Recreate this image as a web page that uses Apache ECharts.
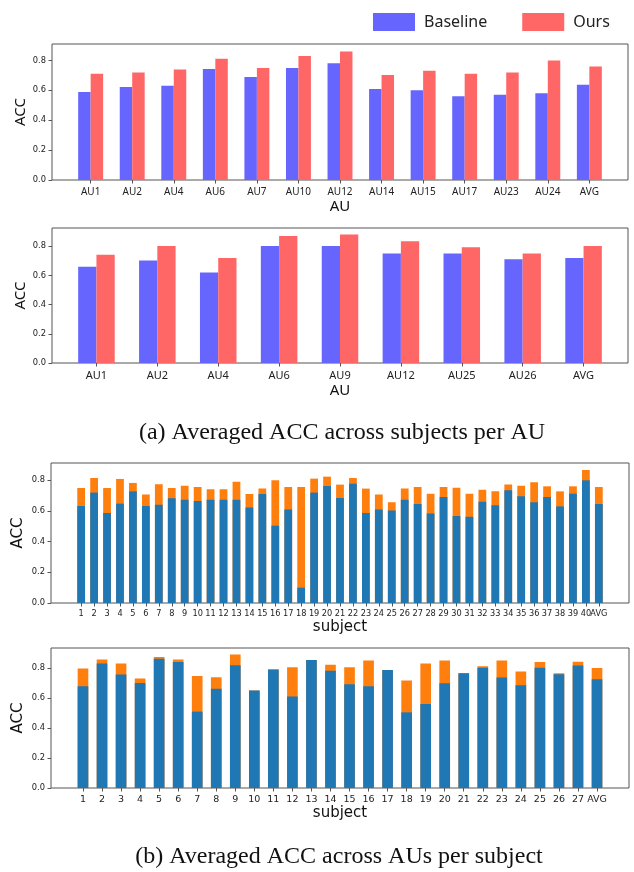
<!DOCTYPE html>
<html><head><meta charset="utf-8">
<script src="https://cdn.jsdelivr.net/npm/echarts@6/dist/echarts.min.js"></script>
<style>html,body{margin:0;padding:0;background:#fff}#c{width:634px;height:872px}</style>
</head><body><div id="c"></div>
<script>
// ---- data ----
const auCatsA = ['AU1','AU2','AU4','AU6','AU7','AU10','AU12','AU14','AU15','AU17','AU23','AU24','AVG'];
const baselineA = [0.589,0.622,0.631,0.742,0.689,0.749,0.782,0.609,0.600,0.560,0.571,0.580,0.638];
const oursA     = [0.711,0.720,0.740,0.811,0.749,0.829,0.860,0.702,0.731,0.711,0.720,0.800,0.760];

const auCatsB = ['AU1','AU2','AU4','AU6','AU9','AU12','AU25','AU26','AVG'];
const baselineB = [0.659,0.702,0.620,0.802,0.802,0.750,0.750,0.711,0.720];
const oursB     = [0.741,0.802,0.720,0.870,0.880,0.834,0.793,0.750,0.802];

const subjectsC = ['1','2','3','4','5','6','7','8','9','10','11','12','13','14','15','16','17','18','19','20',
  '21','22','23','24','25','26','27','28','29','30','31','32','33','34','35','36','37','38','39','40','AVG'];
const baselineC = [0.633,0.720,0.587,0.648,0.728,0.633,0.641,0.683,0.674,0.665,0.674,0.674,0.674,0.622,0.711,0.504,0.609,0.100,0.720,0.763,
  0.685,0.778,0.587,0.609,0.604,0.674,0.646,0.583,0.691,0.567,0.563,0.661,0.637,0.735,0.696,0.657,0.691,0.630,0.713,0.800,0.646];
const oursC     = [0.750,0.815,0.750,0.809,0.783,0.707,0.774,0.750,0.765,0.757,0.741,0.741,0.791,0.711,0.746,0.800,0.757,0.757,0.811,0.824,
  0.772,0.815,0.746,0.707,0.657,0.746,0.757,0.713,0.757,0.752,0.713,0.739,0.728,0.772,0.765,0.787,0.761,0.728,0.761,0.867,0.757];

const subjectsD = ['1','2','3','4','5','6','7','8','9','10','11','12','13','14','15','16','17','18','19','20',
  '21','22','23','24','25','26','27','AVG'];
const baselineD = [0.678,0.829,0.756,0.700,0.862,0.840,0.509,0.662,0.818,0.649,0.789,0.609,0.853,0.782,0.691,0.678,0.787,0.504,0.560,0.698,
  0.764,0.802,0.736,0.684,0.802,0.758,0.816,0.724];
const oursD     = [0.796,0.856,0.829,0.729,0.873,0.856,0.747,0.738,0.889,0.649,0.789,0.804,0.853,0.822,0.804,0.849,0.787,0.716,0.829,0.849,
  0.764,0.811,0.849,0.776,0.840,0.764,0.842,0.800];

const yTicks = [0, 0.2, 0.4, 0.6, 0.8];

// ---- layout ----
const tickFont = 'DejaVu Sans';
const frameColor = '#555';
const panels = [
  {cats: auCatsA, grid:{left:52,right:6,top:44,bottom:692}, xmin:-0.93, xmax:12.93, ymax:0.91, xname:'AU', xFont:10, xFam:'Noto Sans', xMargin:7, nameGap:19, yNameGap:24},
  {cats: auCatsB, grid:{left:52,right:6,top:228,bottom:509}, xmin:-0.73, xmax:8.73, ymax:0.925, xname:'AU', xFont:11, xFam:'Noto Sans', xMargin:7, nameGap:20, yNameGap:24},
  {cats: subjectsC, grid:{left:51,right:5,top:463,bottom:269}, xmin:-2.33, xmax:42.33, ymax:0.913, xname:'subject', xFont:8.2, xFam:tickFont, xMargin:7, nameGap:17, yNameGap:25},
  {cats: subjectsD, grid:{left:51,right:5,top:648,bottom:84}, xmin:-1.68, xmax:28.68, ymax:0.933, xname:'subject', xFont:9.5, xFam:tickFont, xMargin:7, nameGap:18, yNameGap:25}
];

const grids = [], xAxes = [], yAxes = [];
panels.forEach((p, i) => {
  grids.push(Object.assign({show:true, borderColor:frameColor, borderWidth:1, backgroundColor:'transparent'}, p.grid));
  const idx = p.cats.map((c, k) => k);
  const lastIdx = idx.slice(-1);
  const mainIdx = idx.slice(0, -1);
  const labelStyle = {fontSize:p.xFont, fontFamily:p.xFam, color:'#222', margin:p.xMargin,
    hideOverlap:false, showMinLabel:true, showMaxLabel:true, formatter: v => p.cats[Math.round(v)]};
  // main x axis: ticks for all categories, labels for all but the last one
  xAxes.push({
    type:'value', gridIndex:i, min:p.xmin, max:p.xmax, position:'bottom',
    axisLine:{show:false, onZero:false}, splitLine:{show:false},
    axisTick:{show:true, length:3.5, lineStyle:{color:frameColor}, customValues: idx},
    axisLabel:Object.assign({show:true, customValues: mainIdx}, labelStyle),
    name:p.xname, nameLocation:'middle', nameGap:p.nameGap,
    nameTextStyle:{fontSize:15, color:'#111', fontFamily: i < 2 ? 'Noto Sans' : tickFont}
  });
  yAxes.push({
    type:'value', gridIndex:i, min:0, max:p.ymax,
    axisLine:{show:false, onZero:false}, splitLine:{show:false},
    axisTick:{show:true, length:3.5, lineStyle:{color:frameColor}, customValues: yTicks},
    axisLabel:{show:true, showMinLabel:true, showMaxLabel:true, customValues: yTicks, formatter: v => v.toFixed(1), fontSize:8.3, fontFamily:tickFont, color:'#222', margin:6},
    name:'ACC', nameLocation:'middle', nameRotate:90, nameGap:p.yNameGap, nameMoveOverlap:false,
    nameTextStyle:{fontSize:15, color:'#111', fontFamily: i < 2 ? 'Noto Sans' : tickFont}
  });
});
// companion x axes carrying only the last label (so adjacent labels can touch, as in the original)
panels.forEach((p, i) => {
  const lastIdx = [p.cats.length - 1];
  xAxes.push({
    type:'value', gridIndex:i, min:p.xmin, max:p.xmax, position:'bottom', offset:0,
    axisLine:{show:false, onZero:false}, splitLine:{show:false}, axisTick:{show:false},
    axisLabel:{show:true, customValues:lastIdx, showMinLabel:true, showMaxLabel:true, hideOverlap:false,
      formatter: v => p.cats[Math.round(v)], fontSize:p.xFont, fontFamily:p.xFam, color:'#222', margin:p.xMargin}
  });
});

const pair = arr => arr.map((v, k) => [k, v]);

const series = [
  {type:'bar', name:'Baseline', xAxisIndex:0, yAxisIndex:0, data:pair(baselineA), barWidth:'30%', barGap:'0%', itemStyle:{color:'#6666ff'}},
  {type:'bar', name:'Ours', xAxisIndex:0, yAxisIndex:0, data:pair(oursA), barWidth:'30%', barGap:'0%', itemStyle:{color:'#ff6666'}},
  {type:'bar', name:'Baseline', xAxisIndex:1, yAxisIndex:1, data:pair(baselineB), barWidth:'30%', barGap:'0%', itemStyle:{color:'#6666ff'}},
  {type:'bar', name:'Ours', xAxisIndex:1, yAxisIndex:1, data:pair(oursB), barWidth:'30%', barGap:'0%', itemStyle:{color:'#ff6666'}},
  {type:'bar', name:'Ours per subject (A)', xAxisIndex:2, yAxisIndex:2, data:pair(oursC), barWidth:'60%', barGap:'-100%', itemStyle:{color:'#ff7f0e'}},
  {type:'bar', name:'Baseline per subject (A)', xAxisIndex:2, yAxisIndex:2, data:pair(baselineC), barWidth:'60%', barGap:'-100%', itemStyle:{color:'#1f77b4'}},
  {type:'bar', name:'Ours per subject (B)', xAxisIndex:3, yAxisIndex:3, data:pair(oursD), barWidth:'56%', barGap:'-100%', itemStyle:{color:'#ff7f0e'}},
  {type:'bar', name:'Baseline per subject (B)', xAxisIndex:3, yAxisIndex:3, data:pair(baselineD), barWidth:'56%', barGap:'-100%', itemStyle:{color:'#1f77b4'}}
];

const chart = echarts.init(document.getElementById('c'), null, {renderer:'canvas'});
chart.setOption({
  animation:false,
  backgroundColor:'#fff',
  legend:{data:['Baseline','Ours'], left:368, top:8, itemWidth:42, itemHeight:18, itemGap:35, icon:'rect',
    textStyle:{fontSize:16, color:'#222', fontFamily:'Noto Sans', padding:[0,0,0,4]}},
  grid:grids, xAxis:xAxes, yAxis:yAxes, series:series,
  graphic:[
    {type:'text', x:342, y:433, style:{text:'(a) Averaged ACC across subjects per AU', font:'24px "Liberation Serif"', fill:'#111', align:'center', verticalAlign:'middle'}},
    {type:'text', x:339, y:857, style:{text:'(b) Averaged ACC across AUs per subject', font:'24px "Liberation Serif"', fill:'#111', align:'center', verticalAlign:'middle'}}
  ]
});
</script></body></html>
